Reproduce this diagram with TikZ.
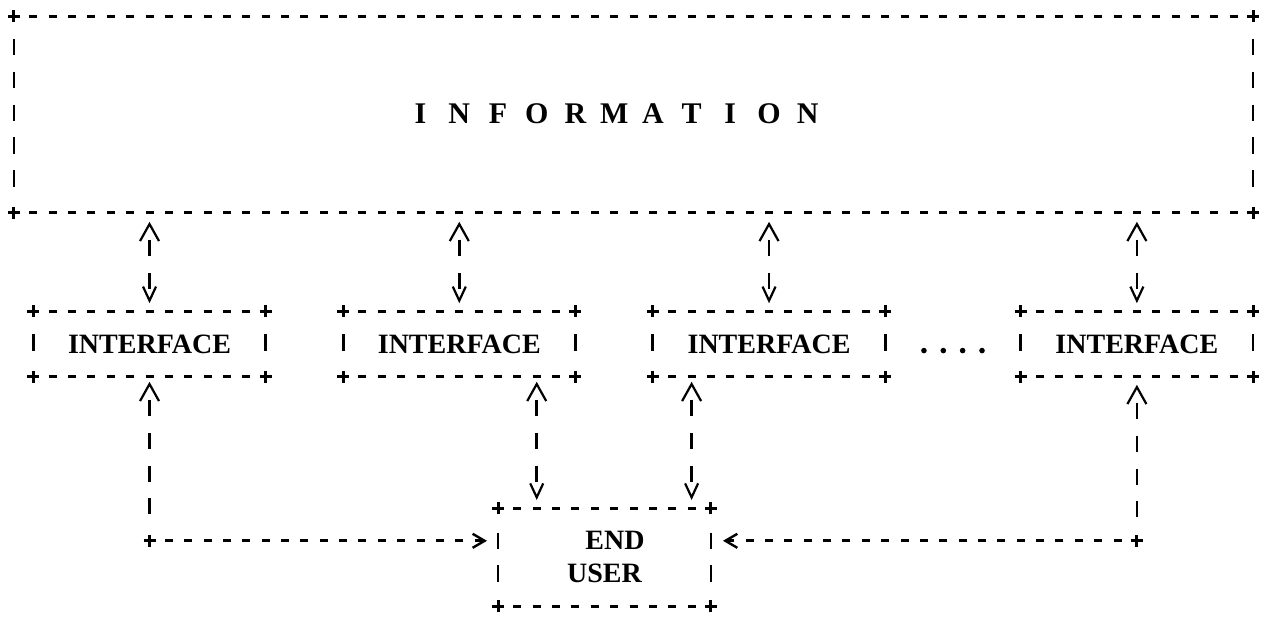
\documentclass[tikz,border=0pt]{standalone}
\usepackage{fontspec}
\setmainfont{Liberation Serif}
\usetikzlibrary{arrows.meta,calc}

% one grid cell = one typewriter character (19.36pt wide, 32.8pt line pitch)
\tikzset{
  frame/.style={draw=none, inner sep=0pt, outer sep=0pt,
    font=\bfseries\fontsize{28}{32.8}\selectfont, align=center},
  titlechar/.style={inner sep=0pt, font=\bfseries\fontsize{30}{30}\selectfont},
  hline/.style={line width=3pt, dash pattern=on 8pt off 11.36pt, dash phase=4pt},
  vbar/.style={line width=2.8pt},
  crosspen/.style={line width=3pt},
  vlink/.style={line width=2.6pt, dash pattern=on 16pt off 16.8pt, dash phase=18pt},
  hlink/.style={line width=3pt, dash pattern=on 8pt off 11.36pt, dash phase=4pt},
  UpHead/.tip={Straight Barb[length=17pt,width=19pt,line width=2.2pt]},
  DownHead/.tip={Straight Barb[length=14pt,width=13pt,line width=2.2pt]},
  SideHead/.tip={Straight Barb[length=12pt,width=14pt,line width=2.4pt]},
}

% a typed "+" at a point
\newcommand\plusat[1]{%
  \draw[crosspen] ([xshift=-6pt]#1) -- ([xshift=6pt]#1)
                  ([yshift=-6pt]#1) -- ([yshift=6pt]#1);}

% dashed top and bottom edges with "+" corners
\newcommand\dashframe[1]{%
  \draw[hline] (#1.north west) -- (#1.north east);
  \draw[hline] (#1.south west) -- (#1.south east);
  \plusat{#1.north west}\plusat{#1.north east}%
  \plusat{#1.south west}\plusat{#1.south east}}

% "|" marks on both sides of a box, at the given row offsets below its top
\newcommand\sidebars[2]{%
  \foreach \r in {#2} {
    \draw[vbar] ($(#1.north west)+(0,\r)+(0,-0.25)$) -- ++(0,0.5);
    \draw[vbar] ($(#1.north east)+(0,\r)+(0,-0.25)$) -- ++(0,0.5);
  }}

\begin{document}
\begin{tikzpicture}[x=19.36pt, y=-32.8pt]
\useasboundingbox (-0.7231,-0.4878) rectangle (64.927,18.323);

% information store
\node[frame, minimum width=1239.04pt, minimum height=196.8pt] (info) at (32,3) {};
\dashframe{info}
\sidebars{info}{0.95,1.95,2.95,3.95,4.95}
\foreach \ch [count=\i from 0] in {I,N,F,O,R,M,A,T,I,O,N}
  \node[titlechar] (t\i) at (21+2*\i, 2.97) {\ch};

% interfaces
\foreach \n/\c in {1/7, 2/23, 3/39, 4/58} {
  \node[frame, minimum width=232.32pt, minimum height=65.6pt] (if\n) at (\c,10) {INTERFACE};
}
\foreach \n in {1,...,4} {
  \dashframe{if\n}
  \sidebars{if\n}{0.95}
}

% ellipsis between the third and fourth interface
\foreach \c in {47,...,50} \fill (\c,10.2) circle (2.8pt);

% end user
\node[frame, minimum width=212.96pt, minimum height=98.4pt] (eu) at (30.5,16.5)
  {\hspace*{21pt}END\\USER};
\dashframe{eu}
\sidebars{eu}{1,2}

% information <-> interfaces
\foreach \n in {1,...,4}
  \draw[vlink, UpHead-DownHead, shorten <=9pt, shorten >=8pt]
    (info.south -| if\n.north) -- (if\n.north);

% interfaces <-> end user, straight down
\coordinate (euA) at ([xshift=38.72pt]eu.north west);
\coordinate (euB) at ([xshift=-19.36pt]eu.north east);
\draw[vlink, UpHead-DownHead, shorten <=5pt, shorten >=8pt] (if2.south -| euA) -- (euA);
\draw[vlink, UpHead-DownHead, shorten <=5pt, shorten >=8pt] (if3.south -| euB) -- (euB);

% interfaces <-> end user, round the side
\coordinate (euL) at ([yshift=16.4pt]eu.west);
\coordinate (euR) at ([yshift=16.4pt]eu.east);
\coordinate (turnL) at (if1.south |- euL);
\coordinate (turnR) at (if4.south |- euR);
\draw[vlink, UpHead-, shorten <=5pt, shorten >=12pt] (if1.south) -- (turnL);
\draw[vlink, UpHead-, shorten <=8pt, shorten >=12pt] (if4.south) -- (turnR);
\draw[hlink, -SideHead, shorten >=11pt] (turnL) -- (euL);
\draw[hlink, -SideHead, shorten >=12pt] (turnR) -- (euR);
\plusat{turnL}
\plusat{turnR}
\end{tikzpicture}
\end{document}
